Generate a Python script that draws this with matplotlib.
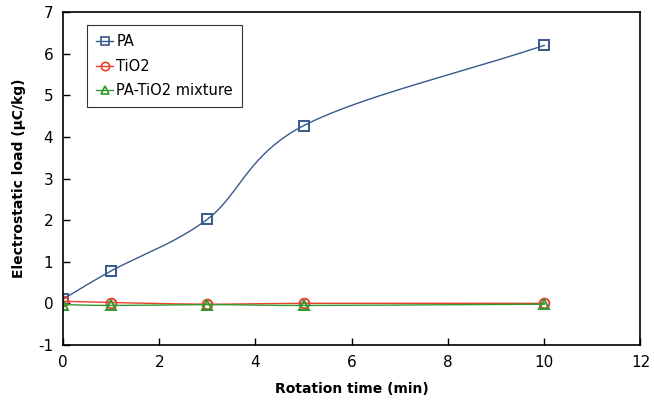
"""Electrostatic load vs rotation time."""

import matplotlib.pyplot as plt
import numpy as np

TIME_MIN = [0, 1, 3, 5, 10]
PA = [0.1, 0.78, 2.02, 4.27, 6.2]
TIO2 = [0.05, 0.02, -0.02, 0.0, 0.0]
MIXTURE = [-0.03, -0.05, -0.03, -0.05, -0.02]

SERIES = [
    ("PA", PA, "#365a8c", "s"),
    ("TiO2", TIO2, "#e8402a", "o"),
    ("PA-TiO2 mixture", MIXTURE, "#2f9a2f", "^"),
]


def _smooth(x, y, n=40):
    """Catmull-Rom curve through the points, like a spreadsheet smoothed line."""
    x = np.asarray(x, float)
    y = np.asarray(y, float)
    px = np.concatenate([[2 * x[0] - x[1]], x, [2 * x[-1] - x[-2]]])
    py = np.concatenate([[2 * y[0] - y[1]], y, [2 * y[-1] - y[-2]]])
    xs, ys = [], []
    t = np.linspace(0, 1, n)
    for i in range(1, len(px) - 2):
        for p, out in ((px, xs), (py, ys)):
            p0, p1, p2, p3 = p[i - 1 : i + 3]
            m1 = (p2 - p0) / 2
            m2 = (p3 - p1) / 2
            h00 = 2 * t**3 - 3 * t**2 + 1
            h10 = t**3 - 2 * t**2 + t
            h01 = -2 * t**3 + 3 * t**2
            h11 = t**3 - t**2
            out.extend(h00 * p1 + h10 * m1 + h01 * p2 + h11 * m2)
    return xs, ys


plt.rcParams["font.family"] = ["DejaVu Sans"]
plt.rcParams["axes.unicode_minus"] = False

fig = plt.figure(figsize=(6.54, 4.03), dpi=100)
ax = fig.add_axes([0.0963, 0.144, 0.883, 0.826])

for label, values, color, marker in SERIES:
    sx, sy = _smooth(TIME_MIN, values)
    ax.plot(sx, sy, color=color, lw=1.0)
    ax.plot(
        TIME_MIN,
        values,
        linestyle="none",
        marker=marker,
        markersize=7,
        markerfacecolor="none",
        markeredgecolor=color,
        markeredgewidth=1.4,
    )
    ax.plot([], [], color=color, lw=1.0, marker=marker, markersize=6,
            markerfacecolor="none", markeredgecolor=color,
            markeredgewidth=1.2, label=label)

ax.set_xlim(0, 12)
ax.set_ylim(-1, 7)
ax.set_xticks(range(0, 13, 2))
ax.set_yticks(range(-1, 8))
ax.tick_params(direction="in", length=5, width=1, labelsize=11, pad=7)
for spine in ax.spines.values():
    spine.set_linewidth(1.2)

ax.set_xlabel("Rotation time (min)", fontsize=10, fontweight="bold", labelpad=9)
ax.set_ylabel("Electrostatic load (μC/kg)", fontsize=10, fontweight="bold", labelpad=9)

leg = ax.legend(
    loc="upper left",
    bbox_to_anchor=(0.042, 0.96),
    borderaxespad=0,
    fontsize=10.5,
    frameon=True,
    fancybox=False,
    edgecolor="black",
    handlelength=1.2,
    handletextpad=0.2,
    borderpad=0.6,
    labelspacing=0.65,
)
leg.get_frame().set_linewidth(0.8)

fig.savefig("out.png", dpi=100)
